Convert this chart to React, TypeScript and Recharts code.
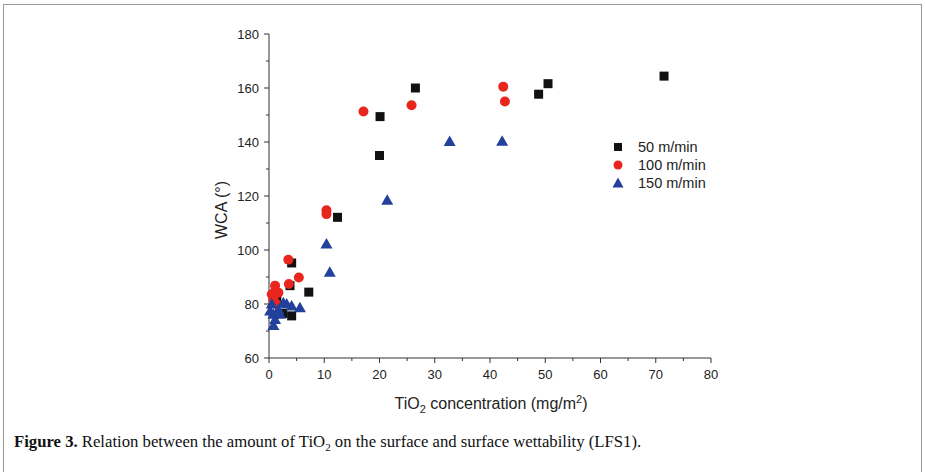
import React from "react";
import { ScatterChart, Scatter, XAxis, YAxis, Legend } from "recharts";

// TiO2 concentration (mg/m2) vs WCA (deg)
const speed50 = [
  { x: 71.5, y: 164.4 }, { x: 50.5, y: 161.6 }, { x: 48.8, y: 157.7 },
  { x: 26.5, y: 160 }, { x: 20.1, y: 149.4 }, { x: 20, y: 135 },
  { x: 12.4, y: 112.1 }, { x: 7.2, y: 84.4 }, { x: 4.1, y: 95.2 },
  { x: 3.8, y: 86.8 }, { x: 1.4, y: 82.3 }, { x: 2.5, y: 76.5 },
  { x: 4.1, y: 75.6 },
];
const speed100 = [
  { x: 42.4, y: 160.5 }, { x: 42.7, y: 155 }, { x: 25.8, y: 153.6 },
  { x: 17.1, y: 151.3 }, { x: 10.4, y: 114.7 }, { x: 10.4, y: 113.3 },
  { x: 5.4, y: 89.8 }, { x: 3.5, y: 96.4 }, { x: 3.6, y: 87.4 },
  { x: 1.1, y: 86.8 }, { x: 1.1, y: 84.8 }, { x: 1.7, y: 84.2 },
  { x: 0.5, y: 83.6 }, { x: 0.8, y: 81.7 }, { x: 1.4, y: 79.9 },
];
const speed150 = [
  { x: 42.2, y: 140.3 }, { x: 32.7, y: 140.2 }, { x: 21.4, y: 118.4 },
  { x: 10.4, y: 102.2 }, { x: 11, y: 91.8 }, { x: 5.6, y: 78.6 },
  { x: 4.1, y: 79.3 }, { x: 3.2, y: 80 }, { x: 2.6, y: 80.5 },
  { x: 0.8, y: 72 }, { x: 0.5, y: 80 }, { x: 0.2, y: 77.4 },
  { x: 0.8, y: 76.2 }, { x: 1.1, y: 74.3 }, { x: 1.7, y: 78 },
  { x: 2, y: 76.2 },
];
const xTicks = [0, 5, 10, 15, 20, 25, 30, 35, 40, 45, 50, 55, 60, 65, 70, 75, 80];
const yTicks = [60, 70, 80, 90, 100, 110, 120, 130, 140, 150, 160, 170, 180];
const seriesNames = ["50 m/min", "100 m/min", "150 m/min"];

const axisColor = "#333";
const sans = "'Liberation Sans', Arial, sans-serif";
const black = "#111";
const red = "#e8261d";
const blue = "#23409a";

const Square = (p: any) => (
  <rect x={p.cx - 4.5} y={p.cy - 4.5} width={9} height={9} fill={black} />
);
const Dot = (p: any) => <circle cx={p.cx} cy={p.cy} r={5} fill={red} />;
const Tri = (p: any) => (
  <polygon
    points={`${p.cx},${p.cy - 6} ${p.cx - 6},${p.cy + 4.5} ${p.cx + 6},${p.cy + 4.5}`}
    fill={blue}
  />
);

const YTick = (props: any) => {
  const { x, y, payload } = props;
  const major = payload.value % 20 === 0;
  return (
    <g>
      <line x1={x} x2={x - (major ? 5 : 3)} y1={y} y2={y} stroke={axisColor} />
      {major && (
        <text x={x - 10} y={y} dy="0.35em" textAnchor="end" fontSize={13} fontFamily={sans} fill="#222">
          {payload.value}
        </text>
      )}
    </g>
  );
};

const XTick = (props: any) => {
  const { x, y, payload } = props;
  const major = payload.value % 10 === 0;
  return (
    <g>
      <line x1={x} x2={x} y1={y} y2={y + (major ? 5 : 3)} stroke={axisColor} />
      {major && (
        <text x={x} y={y + 16} dy="0.35em" textAnchor="middle" fontSize={13} fontFamily={sans} fill="#222">
          {payload.value}
        </text>
      )}
    </g>
  );
};

const markers = [
  <svg width={12} height={12} key="a"><rect x={2} y={2} width={8} height={8} fill={black} /></svg>,
  <svg width={12} height={12} key="b"><circle cx={6} cy={6} r={4.5} fill={red} /></svg>,
  <svg width={12} height={12} key="c"><polygon points="6,0.5 0.5,10.5 11.5,10.5" fill={blue} /></svg>,
];

const LegendBox = () => (
  <div style={{ fontFamily: sans, fontSize: 14.5, color: "#222" }}>
    {seriesNames.map((n, i) => (
      <div key={n} style={{ display: "flex", alignItems: "center", height: 18 }}>
        <div style={{ width: 12, height: 12, display: "flex" }}>{markers[i]}</div>
        <span style={{ marginLeft: 14 }}>{n}</span>
      </div>
    ))}
  </div>
);

export default function App() {
  return (
    <div
      style={{
        position: "absolute",
        left: 0,
        top: 0,
        width: 925,
        height: 472,
        overflow: "hidden",
        background: "#fff",
      }}
    >
      <div
        style={{
          position: "absolute",
          left: 3,
          top: 4,
          width: 917,
          height: 500,
          border: "1.5px solid #999",
        }}
      />
      <div style={{ position: "absolute", left: 0, top: 0 }}>
        <ScatterChart
          width={925}
          height={472}
          margin={{ top: 34, right: 214, left: 209, bottom: 84 }}
        >
          <XAxis
            type="number"
            dataKey="x"
            domain={[0, 80]}
            ticks={xTicks}
            interval={0}
            height={30}
            tickSize={0}
            tickMargin={0}
            tick={<XTick />}
            axisLine={{ stroke: axisColor }}
          />
          <YAxis
            type="number"
            dataKey="y"
            domain={[60, 180]}
            ticks={yTicks}
            interval={0}
            width={60}
            tickSize={0}
            tickMargin={0}
            tick={<YTick />}
            axisLine={{ stroke: axisColor }}
          />
          <Legend
            layout="vertical"
            align="center"
            verticalAlign="middle"
            content={<LegendBox />}
            wrapperStyle={{ left: 612, top: 138, width: 140 }}
          />
          <Scatter name={seriesNames[0]} data={speed50} shape={Square} isAnimationActive={false} />
          <Scatter name={seriesNames[1]} data={speed100} shape={Dot} isAnimationActive={false} />
          <Scatter name={seriesNames[2]} data={speed150} shape={Tri} isAnimationActive={false} />
        </ScatterChart>
      </div>
      <div
        style={{
          position: "absolute",
          left: 222,
          top: 210,
          transform: "translate(-50%, -50%) rotate(-90deg)",
          fontFamily: sans,
          fontSize: 16,
          color: "#222",
          whiteSpace: "nowrap",
        }}
      >
        WCA (°)
      </div>
      <div
        style={{
          position: "absolute",
          left: 491,
          top: 395,
          transform: "translateX(-50%)",
          fontFamily: sans,
          fontSize: 16,
          lineHeight: "18px",
          color: "#222",
          whiteSpace: "nowrap",
        }}
      >
        TiO<sub style={{ fontSize: 11, lineHeight: 0 }}>2</sub> concentration (mg/m<sup style={{ fontSize: 11, lineHeight: 0 }}>2</sup>)
      </div>
      <div
        style={{
          position: "absolute",
          left: 14,
          top: 432,
          fontFamily: "'Liberation Serif', 'Times New Roman', serif",
          fontSize: 16.7,
          lineHeight: "20px",
          color: "#111",
          whiteSpace: "nowrap",
        }}
      >
        <b>Figure 3.</b> Relation between the amount of TiO<sub style={{ fontSize: 11, lineHeight: 0 }}>2</sub> on the surface and surface wettability (LFS1).
      </div>
    </div>
  );
}
